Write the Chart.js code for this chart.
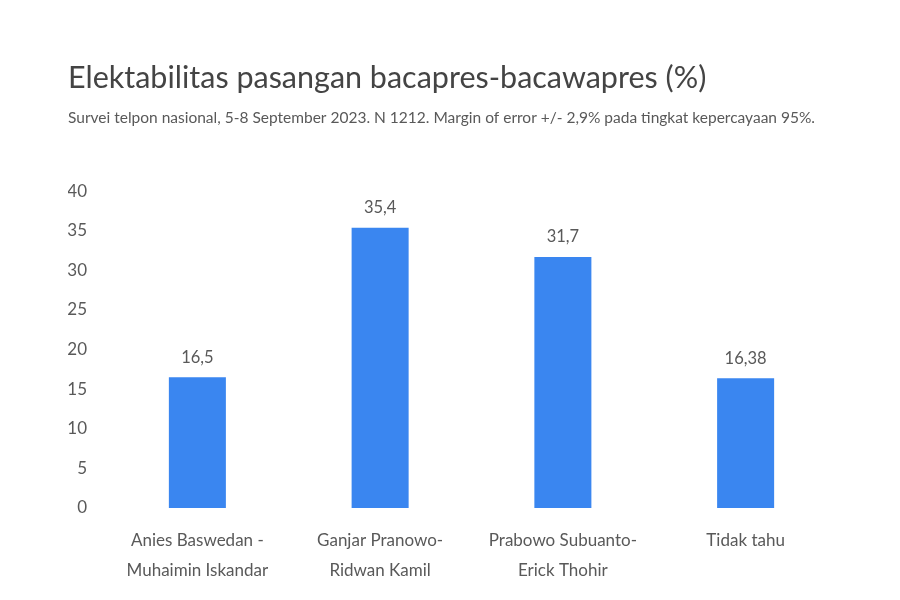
<!DOCTYPE html>
<html>
<head>
<meta charset="utf-8">
<style>
  html, body { margin: 0; padding: 0; background: #ffffff; }
  #wrap { width: 900px; height: 600px; }
</style>
<script src="https://cdn.jsdelivr.net/npm/chart.js@4.4.0/dist/chart.umd.min.js"></script>
</head>
<body>
<div id="wrap"><canvas id="c" width="900" height="600"></canvas></div>
<script>
const categories = [
  ["Anies Baswedan -", "Muhaimin Iskandar"],
  ["Ganjar Pranowo-", "Ridwan Kamil"],
  ["Prabowo Subuanto-", "Erick Thohir"],
  ["Tidak tahu"]
];
const values = [16.5, 35.4, 31.7, 16.38];
const yTicks = [0, 5, 10, 15, 20, 25, 30, 35, 40];

const FONT = "Lato, 'Open Sans', sans-serif";
const TEXT = "#595959";

const valueLabels = {
  id: 'valueLabels',
  afterDatasetsDraw(chart) {
    const ctx = chart.ctx;
    const meta = chart.getDatasetMeta(0);
    ctx.save();
    ctx.font = "16.5px " + FONT;
    ctx.fillStyle = TEXT;
    ctx.textAlign = 'center';
    ctx.textBaseline = 'middle';
    meta.data.forEach((bar, i) => {
      const txt = String(values[i]).replace('.', ',');
      ctx.fillText(txt, bar.x, bar.y - 20);
    });
    ctx.restore();
  }
};

new Chart(document.getElementById('c'), {
  type: 'bar',
  data: {
    labels: categories,
    datasets: [{
      data: values,
      backgroundColor: '#3a86f0',
      borderWidth: 0,
      barPercentage: 0.312,
      categoryPercentage: 1.0
    }]
  },
  options: {
    responsive: false,
    animation: false,
    devicePixelRatio: 1,
    layout: { padding: { top: 60, left: 68, right: 63, bottom: 0 } },
    plugins: {
      legend: { display: false },
      tooltip: { enabled: false },
      title: {
        display: true,
        text: 'Elektabilitas pasangan bacapres-bacawapres (%)',
        align: 'start',
        color: '#444444',
        font: { family: FONT, size: 30.5, weight: 'normal', lineHeight: 1.2 },
        padding: { top: 0, bottom: 6 }
      },
      subtitle: {
        display: true,
        text: 'Survei telpon nasional, 5-8 September 2023. N 1212. Margin of error +/- 2,9% pada tingkat kepercayaan 95%.',
        align: 'start',
        color: TEXT,
        font: { family: FONT, size: 15.5, weight: 'normal', lineHeight: 1.2 },
        padding: { top: 6, bottom: 64 }
      }
    },
    scales: {
      x: {
        grid: { display: false, drawTicks: false },
        border: { display: false },
        ticks: {
          color: TEXT,
          font: { family: FONT, size: 17, lineHeight: 1.76 },
          padding: 18,
          maxRotation: 0,
          autoSkip: false
        },
        afterFit(scale) { scale.height = 92; }
      },
      y: {
        min: 0,
        max: 40,
        grid: { display: false, drawTicks: false },
        border: { display: false },
        afterBuildTicks(scale) { scale.ticks = yTicks.map(v => ({ value: v })); },
        ticks: {
          color: TEXT,
          font: { family: FONT, size: 17 },
          padding: 19
        },
        afterFit(scale) { scale.width = 38; }
      }
    }
  },
  plugins: [valueLabels]
});
</script>
</body>
</html>
